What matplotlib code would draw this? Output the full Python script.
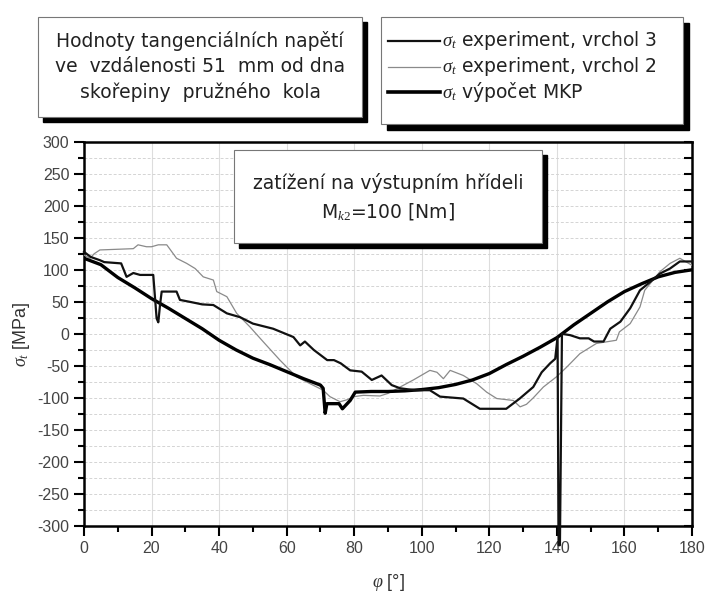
import numpy as np
import matplotlib.pyplot as plt
from matplotlib.patches import Rectangle
from matplotlib.lines import Line2D
from matplotlib.ticker import MultipleLocator

plt.rcParams['font.family'] = ['Liberation Sans', 'DejaVu Sans']
plt.rcParams['mathtext.fontset'] = 'custom'
plt.rcParams['mathtext.rm'] = 'Liberation Serif'
plt.rcParams['mathtext.it'] = 'Liberation Serif:italic'
plt.rcParams['axes.unicode_minus'] = False

# výpočet MKP
phi_mkp = [0, 5, 10, 15, 20, 25, 30, 35, 40, 45, 50, 55, 60, 65, 70, 70.8, 71.4, 71.9,
           75.5, 76.5, 78.8, 80.3, 85, 90, 95, 100, 105, 110, 115, 120, 125, 130, 135,
           140, 145, 150, 155, 160, 165, 170, 175, 180]
sig_mkp = [118, 108, 88, 72, 55, 40, 24, 8, -10, -25, -38, -48, -59, -70, -80, -85, -124, -109,
           -109, -117, -104, -91, -90, -90, -89, -87, -84, -79, -72, -62, -48, -35, -21,
           -6, 14, 32, 50, 66, 78, 89, 96, 100]

# experiment, vrchol 3
phi_v3 = [0, 2, 4.7, 6, 11, 12.6, 14.6, 16.6, 20.5, 21.5, 22, 22.5, 23, 27.4, 28.4, 31.3, 35,
          38.3, 42.3, 46.2, 50, 56, 62, 64, 65.4, 68, 72, 74, 76, 78.8, 82.2, 85.2, 88.1,
          91.1, 93.6, 98, 102.4, 105.4, 112.3, 117.2, 125, 129, 133, 135.5, 138, 139.5,
          140.2, 140.5, 140.9, 141.5, 143.9, 146.8, 149.4, 151, 153.8, 155.8, 158.8, 161.7,
          164.6, 167.6, 170.5, 173.5, 176.4, 180]
sig_v3 = [128, 120, 115, 112, 110, 89, 95, 92, 92, 24, 18, 45, 66, 66, 53, 50, 46,
          45, 32, 26, 16, 8, -5, -18, -12, -25, -41, -41, -46, -57, -59, -72, -65,
          -80, -85, -88, -88, -98, -101, -117, -117, -101, -83, -60, -46, -39,
          -5, -330, -330, 0, -2, -7, -7, -12, -12, 8, 19, 40,
          68, 81, 94, 102, 113, 113]

# experiment, vrchol 2
phi_v2 = [0, 1.8, 3, 4.7, 14.6, 16, 18.5, 20, 22, 24.5, 27.4, 30.4, 32.9, 35.3, 38.3, 39.3,
          42.3, 45.2, 49.1, 53, 58, 62.9, 67, 70.8, 72.8, 75.8, 77.8, 80, 82.7, 87.6, 90,
          93.6, 97.5, 102.4, 104.5, 106.4, 108.4, 112.3, 116.3, 119.2, 122.2, 127.1, 129.1,
          131, 133, 136, 139.9, 142.9, 146.8, 151.7, 157.6, 158.5, 161.7, 164.6, 166, 170.5,
          173.5, 176.4, 180]
sig_v2 = [123, 118, 125, 131, 133, 139, 136, 136, 139, 139, 118, 110, 102, 89, 84, 66,
          58, 32, 11, -12, -41, -67, -78, -88, -98, -106, -103, -98, -96, -97, -93,
          -83, -72, -57, -60, -70, -57, -65, -78, -91, -101, -104, -114,
          -110, -100, -83, -67, -52, -31, -15, -10, 3, 16, 42, 68, 97,
          110, 118, 107]

W, H = 707, 594
BOXFONT = ['DejaVu Sans']


def fx(x, y):
    return x / W, 1 - y / H


def box(x0, y0, x1, y1, sh=5):
    fig.patches.append(Rectangle(fx(x0 + sh, y1 + sh), (x1 - x0) / W, (y1 - y0) / H,
                                 transform=fig.transFigure, color='black', zorder=5))
    fig.patches.append(Rectangle(fx(x0, y1), (x1 - x0) / W, (y1 - y0) / H,
                                 transform=fig.transFigure, facecolor='white',
                                 edgecolor='#777777', lw=0.8, zorder=6))


fig = plt.figure(figsize=(W / 100, H / 100), dpi=100)
ax = fig.add_axes([84 / W, 1 - 526 / H, (692 - 84) / W, (526 - 141.7) / H])

ax.plot(phi_v2, sig_v2, color='#8a8a8a', lw=0.9, zorder=3)
ax.plot(phi_mkp, sig_mkp, color='black', lw=2.4, zorder=4)
ax.plot(phi_v3, sig_v3, color='#111111', lw=1.6, zorder=5, clip_on=False)

ax.set_xlim(0, 180)
ax.set_ylim(-300, 300)
ax.xaxis.set_major_locator(MultipleLocator(20))
ax.xaxis.set_minor_locator(MultipleLocator(10))
ax.yaxis.set_major_locator(MultipleLocator(50))
ax.yaxis.set_minor_locator(MultipleLocator(25))
ax.tick_params(which='both', direction='out', colors='black', labelcolor='#444444',
               labelsize=11.5, width=1.5, right=True)
ax.tick_params(which='major', length=7)
ax.tick_params(which='minor', length=4)
ax.tick_params(axis='y', which='both', labelright=False)
for sp in ax.spines.values():
    sp.set_linewidth(1.8)
for ticks in (ax.yaxis.get_major_ticks() + ax.yaxis.get_minor_ticks()):
    ticks.tick2line.set_marker(0)
    ticks.tick2line.set_markersize(6)
ax.grid(axis='x', which='major', color='#dddddd', lw=0.8)
ax.grid(axis='y', which='both', color='#d4d4d4', lw=0.7, ls=(0, (3, 2)))
ax.set_axisbelow(True)

ax.set_xlabel(r'$\varphi$ [°]', fontsize=13, color='#333333', labelpad=12)
ax.set_ylabel(r'$\sigma_t$ [MPa]', fontsize=13, color='#333333', labelpad=4)

# popisy
box(38, 17, 362, 117)
for yy, s in zip([41, 67, 92], ['Hodnoty tangenciálních napětí',
                               've  vzdálenosti 51  mm od dna',
                               'skořepiny  pružného  kola']):
    fig.text(*fx(200, yy), s, ha='center', va='center', fontsize=13.5, family=BOXFONT,
             color='#222222', zorder=7)

box(381, 17, 683, 124, sh=6)
leg = [('#111111', 1.6, r'$\sigma_t$ experiment, vrchol 3'),
       ('#8a8a8a', 0.9, r'$\sigma_t$ experiment, vrchol 2'),
       ('black', 2.6, r'$\sigma_t$ výpočet MKP')]
for yy, (c, lw, s) in zip([41, 67, 92], leg):
    x0, y0 = fx(388, yy)
    x1, _ = fx(440, yy)
    fig.lines.append(Line2D([x0, x1], [y0, y0], transform=fig.transFigure, color=c, lw=lw, zorder=7))
    fig.text(*fx(442, yy), s, ha='left', va='center', fontsize=13.5, family=BOXFONT,
             color='#222222', zorder=7)

box(234, 150, 542, 243, sh=5)
fig.text(*fx(388, 183), 'zatížení na výstupním hřídeli', ha='center', va='center',
         fontsize=13.5, family=BOXFONT, color='#222222', zorder=7)
fig.text(*fx(388, 212), r'M$_{k2}$=100 [Nm]', ha='center', va='center',
         fontsize=13.5, family=BOXFONT, color='#222222', zorder=7)

fig.savefig('out.png', dpi=100)
